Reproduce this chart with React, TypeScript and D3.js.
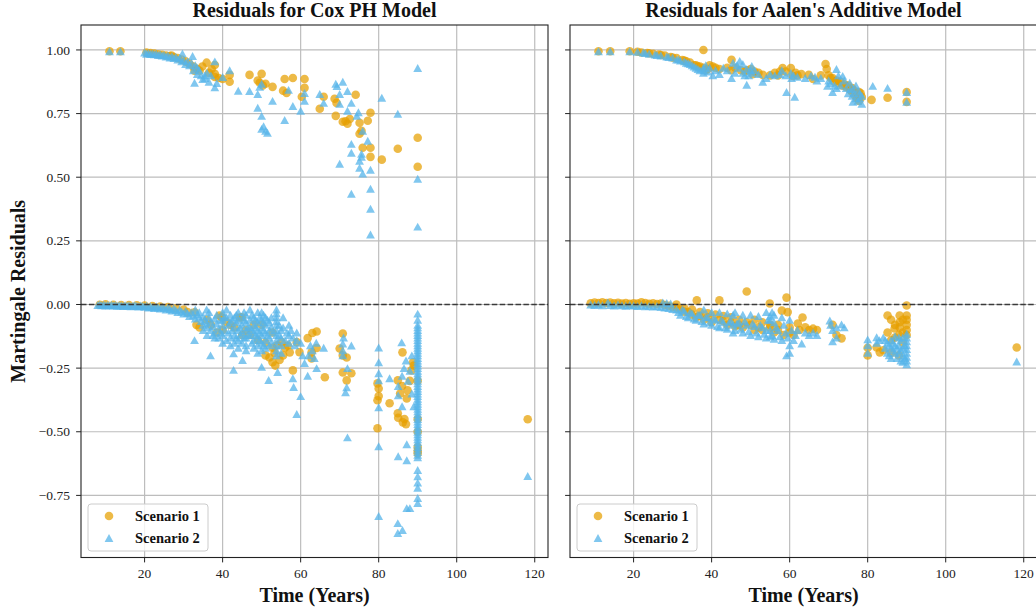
import React from 'react';
import * as d3 from 'd3';

// ---- data (time in years, martingale residual) ----
const xTicks = [20, 40, 60, 80, 100, 120];
const yTicks = [1.0, 0.75, 0.5, 0.25, 0, -0.25, -0.5, -0.75];
const yTickLabels = ['1.00', '0.75', '0.50', '0.25', '0.00', '\u22120.25', '\u22120.50', '\u22120.75'];
const seriesNames = ['Scenario 1', 'Scenario 2'];
const panelTitles = ['Residuals for Cox PH Model', "Residuals for Aalen's Additive Model"];

const coxS1 = [
  [11, 0.995], [13.8, 0.995], [20.5, 0.99], [21.5, 0.988], [22.5, 0.986], [23.5, 0.983], [24.5, 0.981], [25.5, 0.978],
  [26.5, 0.976], [26.9, 0.978], [27.5, 0.972], [28.5, 0.968], [29.5, 0.962], [30.5, 0.955], [31.5, 0.946], [32.5, 0.935],
  [32.8, 0.918], [33.5, 0.925], [34.1, 0.918], [34.8, 0.935], [35.9, 0.95], [36.5, 0.91], [37.2, 0.925], [38, 0.941],
  [38, 0.906], [38, 0.894], [39, 0.89], [40, 0.886], [41.8, 0.875], [41.8, 0.902],
  [46.9, 0.902], [49, 0.88], [49.5, 0.871], [50, 0.906], [50.3, 0.86], [51, 0.867], [52.8, 0.855], [55.5, 0.84],
  [55.9, 0.886], [56.4, 0.831], [58, 0.89], [60.3, 0.816], [61, 0.886], [61, 0.851], [64.9, 0.769], [65.9, 0.816],
  [68.7, 0.808], [69, 0.741], [69.2, 0.792], [70.8, 0.718], [71.5, 0.72], [72, 0.71], [72.6, 0.729], [74.1, 0.824],
  [75.1, 0.714], [75.1, 0.671], [75.6, 0.682], [75.9, 0.616], [77.2, 0.722], [77.9, 0.753], [77.9, 0.616], [77.9, 0.58],
  [80.8, 0.569], [84.9, 0.612], [90, 0.655], [90, 0.541],
  [8.5, -0.001], [10, 0.001], [12, -0.001], [14, -0.002], [16, -0.002], [18, -0.003], [20, -0.004], [22, -0.006],
  [24, -0.008], [26, -0.01], [28, -0.015], [30, -0.02], [31, -0.03], [32.8, -0.031], [33.3, -0.08], [34.1, -0.09],
  [36, -0.06], [37, -0.08], [38.5, -0.11], [39.2, -0.043], [39.7, -0.05], [41, -0.07], [43, -0.09], [44.4, -0.051],
  [44.9, -0.05], [46, -0.1], [47, -0.12], [48, -0.08], [50, -0.08], [51, -0.15], [52, -0.208], [52.8, -0.11],
  [52.8, -0.17], [52.8, -0.227], [53.3, -0.19], [54.6, -0.218], [55.1, -0.148], [56.7, -0.161], [57.2, -0.188], [58, -0.259],
  [59, -0.148], [59.7, -0.187], [61.8, -0.132], [63, -0.112], [64.1, -0.106], [64.1, -0.171], [62.8, -0.188], [62.8, -0.212],
  [66.2, -0.286], [70, -0.173], [70.8, -0.114], [70.8, -0.2], [70.8, -0.267], [71.8, -0.208], [71.8, -0.298], [73, -0.27],
  [79.7, -0.31], [79.7, -0.376], [79.7, -0.486], [80, -0.33], [80, -0.36], [82.8, -0.388], [84.9, -0.298], [84.9, -0.427],
  [85, -0.445], [86.1, -0.188], [86.2, -0.463], [86.6, -0.45], [87, -0.47], [87.2, -0.369], [87.4, -0.337], [88.4, -0.259],
  [88.8, -0.227], [88, -0.3], [89, -0.24], [86, -0.32], [85.5, -0.35], [90, -0.3], [90, -0.45], [90, -0.5],
  [90, -0.56], [90, -0.575], [90, -0.585], [118.2, -0.451],
  [40, -0.1], [42, -0.08], [45, -0.12], [49, -0.14], [51, -0.2], [53.5, -0.24], [54, -0.16], [55.5, -0.2],
  [56, -0.17],
];

const coxS2 = [
  [11, 0.995], [13.8, 0.995], [20, 0.99], [21, 0.988], [22, 0.986], [23, 0.984], [24, 0.982], [25, 0.98],
  [26, 0.978], [27, 0.975], [28, 0.972], [29, 0.968], [29.7, 0.986], [30, 0.96], [31, 0.955], [32.3, 0.976],
  [32, 0.95], [33, 0.94], [32.8, 0.871], [33.5, 0.93], [34, 0.92], [34.9, 0.886], [35.4, 0.9], [36, 0.91],
  [37, 0.9], [38, 0.955], [38, 0.853], [38.5, 0.87], [40, 0.894], [41.8, 0.92],
  [20.5, 0.985], [21.5, 0.984], [22.5, 0.983], [23.5, 0.98], [24.5, 0.978], [25.5, 0.974], [26.5, 0.97], [27.5, 0.968],
  [28.5, 0.962], [29.5, 0.955], [30.5, 0.945], [31.5, 0.94], [32.5, 0.92], [33.5, 0.905], [34.5, 0.9], [35.5, 0.89],
  [36.5, 0.875],
  [44, 0.84], [46.9, 0.839], [49, 0.827], [49.5, 0.855], [50, 0.867], [49, 0.773], [50, 0.741], [50, 0.69],
  [50.5, 0.7], [51, 0.682], [51.5, 0.675], [52.8, 0.8], [55.9, 0.725], [56.9, 0.843], [58, 0.78], [60, 0.761],
  [61, 0.831], [61, 0.8], [64.9, 0.827], [65.9, 0.792], [69, 0.867], [69.3, 0.858], [70.8, 0.875], [70, 0.827],
  [72, 0.839], [70, 0.788], [72, 0.761], [73, 0.792], [74.4, 0.741], [74.8, 0.755], [75.9, 0.682], [77.2, 0.643],
  [73, 0.631], [73, 0.596], [75.6, 0.592], [75.1, 0.565], [75.6, 0.58], [75.1, 0.537], [75.9, 0.514], [77.9, 0.529],
  [70, 0.553], [73, 0.435], [77.9, 0.455], [77.9, 0.376], [77.9, 0.275], [80.8, 0.812], [84.9, 0.749], [90, 0.929],
  [90, 0.494], [90, 0.306],
  [8, -0.002], [8.5, 0], [9, -0.003], [9.5, -0.001], [10, -0.004], [10.5, -0.002], [11, -0.003], [11.5, -0.001],
  [12, -0.004], [12.5, -0.002], [13, -0.005], [13.5, -0.003], [14, -0.004], [14.5, -0.006], [15, -0.003], [15.5, -0.005],
  [16, -0.004], [16.5, -0.007], [17, -0.005], [17.5, -0.003], [18, -0.006], [18.5, -0.008], [19, -0.004], [19.5, -0.006],
  [20, -0.009], [20.5, -0.005], [21, -0.012], [21.5, -0.007], [22, -0.01], [22.5, -0.014], [23, -0.008], [23.5, -0.012],
  [24, -0.016], [24.5, -0.01], [25, -0.014], [25.5, -0.02], [26, -0.012], [26.5, -0.018], [27, -0.024], [27.5, -0.016],
  [28, -0.022], [28.5, -0.03], [29, -0.02], [29.5, -0.028], [30, -0.036], [30.5, -0.025], [31, -0.034], [31.5, -0.045],
  [32, -0.03], [32.5, -0.042], [33, -0.055], [33.5, -0.038], [34, -0.05], [34.5, -0.065], [35, -0.045], [35.5, -0.06],
  [36, -0.075], [36.5, -0.05], [37, -0.068], [37.5, -0.085], [38, -0.055], [38.5, -0.075], [39, -0.095], [39.5, -0.06],
  [40, -0.08], [40.5, -0.1],
  [32.8, -0.14], [36.9, -0.2], [35.9, -0.02], [36, -0.09], [36, -0.12], [38, -0.11], [38, -0.13],
  [40, -0.03], [40, -0.06], [40, -0.12], [40, -0.15], [41, -0.02], [41, -0.05], [41, -0.14], [42, -0.04],
  [42, -0.07], [42, -0.13], [42, -0.16], [43, -0.05], [43, -0.09], [43, -0.12], [43, -0.15], [44, -0.03],
  [44, -0.06], [44, -0.1], [44, -0.14], [44, -0.17], [45, -0.05], [45, -0.08], [45, -0.11], [45, -0.15],
  [46, -0.04], [46, -0.07], [46, -0.1], [46, -0.13], [46, -0.16], [46, -0.18], [47, -0.02], [47, -0.06],
  [47, -0.09], [47, -0.12], [48, -0.05], [48, -0.08], [48, -0.11], [48, -0.14], [48, -0.17], [49, -0.03],
  [49, -0.07], [49, -0.1], [49, -0.13], [49, -0.16], [49, -0.19], [50, -0.03], [50, -0.06], [50, -0.09],
  [50, -0.12], [50, -0.15], [50, -0.18], [51, -0.05], [51, -0.08], [51, -0.11], [51, -0.14], [51, -0.17],
  [52, -0.07], [52, -0.1], [52, -0.13], [52, -0.16], [53.8, -0.02], [53.8, -0.035], [53.8, -0.05], [53.8, -0.065],
  [53.8, -0.08], [53.8, -0.1], [53.8, -0.12], [53.8, -0.14], [53.8, -0.16], [53.8, -0.18], [53.8, -0.2], [55, -0.1],
  [55, -0.13], [55, -0.16], [55, -0.19], [57, -0.08], [57, -0.12], [57, -0.15], [59, -0.11], [59, -0.14],
  [33, -0.02], [34, -0.03], [35, -0.08], [35, -0.1], [36.5, -0.03], [37, -0.1], [37.5, -0.12], [38.5, -0.04],
  [39, -0.13], [39.5, -0.11], [40.5, -0.05], [41.5, -0.08], [41.5, -0.11], [42.5, -0.06], [42.5, -0.1], [43.5, -0.04],
  [43.5, -0.07], [43.5, -0.13], [44.5, -0.09], [44.5, -0.12], [45.5, -0.03], [45.5, -0.06], [45.5, -0.13], [46.5, -0.09],
  [46.5, -0.12], [47.5, -0.04], [47.5, -0.1], [47.5, -0.15], [48.5, -0.06], [48.5, -0.09], [48.5, -0.12], [49.5, -0.05],
  [49.5, -0.11], [49.5, -0.14], [50.5, -0.04], [50.5, -0.07], [50.5, -0.1], [50.5, -0.16], [51.5, -0.06], [51.5, -0.12],
  [52.5, -0.05], [52.5, -0.09], [52.5, -0.15], [53, -0.11], [54.5, -0.08], [54.5, -0.12], [55.5, -0.05], [55.5, -0.09],
  [56, -0.14], [56.5, -0.11], [57.5, -0.1], [58, -0.13], [58.5, -0.16], [60, -0.15], [60.5, -0.2], [61, -0.23],
  [62.5, -0.16], [63.5, -0.21],
  [42.8, -0.257], [42.8, -0.192], [45.1, -0.218], [50, -0.245], [51.8, -0.297], [54.1, -0.265], [58, -0.29], [58.2, -0.324],
  [60, -0.36], [59, -0.43], [61.8, -0.28], [64.1, -0.25], [65.9, -0.17], [62, -0.2], [63, -0.18], [64, -0.15],
  [70.8, -0.153], [70.8, -0.18], [70.8, -0.2], [71, -0.13], [71.8, -0.325], [72, -0.522], [73, -0.161], [72, -0.25],
  [71.5, -0.345],
  [80, -0.169], [80, -0.227], [80, -0.27], [80, -0.298], [80, -0.404], [80, -0.557], [80, -0.831], [82.8, -0.29],
  [85.9, -0.149], [85, -0.357], [85, -0.32], [86, -0.28], [86.5, -0.25], [87, -0.22], [87.5, -0.3], [88, -0.26],
  [88.5, -0.35], [86, -0.4], [85, -0.596], [87.2, -0.549], [87.2, -0.612], [87.2, -0.8], [88, -0.8], [84.9, -0.859],
  [86.1, -0.886], [84.9, -0.898], [89, -0.4], [88.5, -0.2],
  [90, -0.036], [90, -0.06], [90, -0.08], [90, -0.1], [90, -0.12], [90, -0.14], [90, -0.16], [90, -0.18],
  [90, -0.2], [90, -0.22], [90, -0.24], [90, -0.26], [90, -0.28], [90, -0.3], [90, -0.32], [90, -0.34],
  [90, -0.36], [90, -0.38], [90, -0.4], [90, -0.42], [90, -0.44], [90, -0.46], [90, -0.48], [90, -0.5],
  [90, -0.52], [90, -0.54], [90, -0.56], [90, -0.58], [90, -0.6], [90, -0.65], [90, -0.675], [90, -0.7],
  [90, -0.72], [90, -0.76], [90, -0.78], [118.2, -0.674],
  [90, -0.09], [90, -0.11], [90, -0.13], [90, -0.15], [90, -0.17], [90, -0.19], [90, -0.21], [90, -0.23],
  [90, -0.25], [90, -0.27], [90, -0.29], [90, -0.31], [90, -0.33], [90, -0.35], [90, -0.37], [90, -0.39],
  [90, -0.41], [90, -0.43], [90, -0.45], [90, -0.47], [90, -0.49], [90, -0.51], [90, -0.53], [90, -0.55],
  [90, -0.57], [90, -0.59],
];

const aalenS1 = [
  [11, 0.995], [14, 0.995], [19, 0.995], [21, 0.993], [22, 0.99], [23.5, 0.988], [25, 0.985], [26.5, 0.982],
  [28, 0.978], [29.5, 0.972], [31, 0.968], [32.5, 0.96], [33.5, 0.955], [34.5, 0.95], [35.5, 0.94], [36.5, 0.935],
  [37.9, 1.0], [37.9, 0.93], [38.5, 0.92], [39.5, 0.94], [40.3, 0.935], [42, 0.925], [45.1, 0.961], [46, 0.93],
  [47.5, 0.92], [48.5, 0.915], [50, 0.925], [50.5, 0.905], [53.1, 0.902], [56.2, 0.91], [57, 0.9], [58.2, 0.929],
  [59, 0.915], [60.3, 0.929], [60.8, 0.898], [61.5, 0.91], [64.9, 0.902], [66, 0.886], [69.2, 0.945], [69.5, 0.925],
  [70, 0.9], [71, 0.89], [72, 0.88], [73, 0.875], [74, 0.865], [75, 0.86], [76, 0.85], [76.5, 0.84],
  [77, 0.83], [77.5, 0.825], [78, 0.82], [78.5, 0.815], [77.8, 0.835], [81, 0.804], [85.1, 0.812], [90, 0.835],
  [90, 0.796],
  [24, 0.987], [27, 0.98], [30, 0.97], [33, 0.958], [36, 0.94], [37, 0.935], [39, 0.925], [41, 0.93],
  [44, 0.93], [45, 0.92], [49, 0.92], [51, 0.915], [52, 0.91], [55, 0.9], [57.5, 0.915], [62, 0.9],
  [63, 0.905], [68, 0.9], [70.5, 0.89], [71.5, 0.875], [72.5, 0.87], [73.5, 0.86], [74.5, 0.855], [75.5, 0.845],
  [76, 0.835], [76.8, 0.82], [77.3, 0.81], [77.8, 0.8], [78.2, 0.83],
  [9, 0.005], [10, 0.008], [11, 0.006], [12, 0.009], [13, 0.006], [14, 0.008], [15, 0.005], [16, 0.007],
  [17, 0.004], [18, 0.006], [19, 0.003], [20, 0.005], [21, 0.004], [22, 0.009], [23, 0.006], [24, 0.003],
  [25, 0.005], [26, 0.002], [27, 0.004], [28, -0.002], [29, -0.005], [30, -0.01], [31, -0.012], [32, -0.02],
  [33, -0.028], [34, -0.03], [35, -0.04], [36.2, 0.016], [36, -0.05], [37, -0.045], [38, -0.06], [39, -0.05],
  [40, -0.07], [42, 0.016], [42, -0.06], [43, -0.065], [44, -0.08], [45, -0.07], [46, -0.085], [47, -0.06],
  [48, -0.09], [49, 0.051], [50, -0.08], [51, -0.1], [52, -0.09], [53, -0.1], [54.9, 0.004], [55, -0.08],
  [56, -0.11], [57, -0.1], [58, -0.024], [59.2, 0.027], [59.5, -0.03], [58.5, -0.12], [60, -0.11], [62.1, -0.075],
  [63.3, -0.051], [62.5, -0.1], [64, -0.09], [65, -0.1], [66, -0.095], [67, -0.1], [71, -0.08], [72, -0.12],
  [73.3, -0.133], [80, -0.2], [80, -0.17], [82.3, -0.169], [83.1, -0.188], [85.1, -0.043], [85.1, -0.11], [86.9, -0.094],
  [87, -0.13], [88.2, -0.043], [88.2, -0.07], [88.2, -0.09], [90, -0.004], [90, -0.043], [90, -0.06], [90, -0.08],
  [90, -0.1], [90, -0.12], [88, -0.2], [86, -0.19], [84, -0.18], [89, -0.15], [118.2, -0.169],
  [31, 0.0], [33, -0.015], [35, -0.02], [37, -0.03], [39, -0.035], [41, -0.04], [43, -0.045], [45, -0.05],
  [47, -0.08], [49, -0.07], [51, -0.06], [53, -0.07], [55, -0.09], [57, -0.08], [60, -0.09], [61, -0.12],
  [86, -0.06], [87, -0.08], [89, -0.06], [89, -0.11], [88, -0.12], [86, -0.14],
];

const aalenS2 = [
  [11, 0.995], [14, 0.995], [19, 0.995], [21, 0.993], [22.5, 0.99], [24, 0.985], [25.5, 0.982], [27, 0.978],
  [28.5, 0.974], [30, 0.97], [31.5, 0.963], [33, 0.955], [34, 0.948], [35, 0.94], [36, 0.93], [37, 0.92],
  [37.9, 0.91], [37.9, 0.93], [38.5, 0.94], [40.3, 0.9], [41, 0.92], [45.1, 0.89], [45.5, 0.95], [47.2, 0.957],
  [47, 0.93], [48, 0.91], [48.5, 0.9], [49, 0.863], [50.3, 0.937], [50.3, 0.91], [50, 0.92], [53.1, 0.875],
  [56.2, 0.9], [57.5, 0.905], [59.2, 0.835], [60.3, 0.91], [60.5, 0.89], [61.3, 0.816], [65.5, 0.9], [66.5, 0.895],
  [69.7, 0.859], [70, 0.88], [71, 0.835], [72, 0.925], [72.5, 0.9], [73.6, 0.898], [74, 0.88], [75.4, 0.871],
  [76.2, 0.847], [76.2, 0.796], [77, 0.86], [77.5, 0.84], [78.5, 0.788], [78.5, 0.82], [81.3, 0.859], [85.1, 0.851],
  [90, 0.835], [90, 0.796],
  [23, 0.988], [26, 0.98], [29, 0.972], [31, 0.962], [32, 0.958], [33.5, 0.95], [34.5, 0.945], [35.5, 0.935],
  [36.5, 0.925], [38, 0.92], [39, 0.915], [39.5, 0.93], [42, 0.905], [43, 0.93], [44, 0.92], [46, 0.91],
  [46.5, 0.94], [48, 0.945], [49, 0.925], [49.5, 0.9], [51, 0.92], [52, 0.905], [54, 0.89], [55, 0.905],
  [58, 0.92], [59, 0.9], [61, 0.9], [62, 0.895], [64, 0.89], [67, 0.88], [68, 0.89], [70.5, 0.87],
  [71.5, 0.86], [72, 0.85], [73, 0.86], [74.5, 0.85], [75, 0.83], [75.5, 0.845], [76, 0.82], [76.5, 0.83],
  [77, 0.81], [77.5, 0.8], [78, 0.83], [78, 0.81],
  [9, 0.0], [10, -0.002], [11, 0.001], [12, -0.003], [13.4, 0.008], [14, -0.002], [15, -0.004], [16, 0.0],
  [17, -0.003], [18, -0.005], [19, -0.002], [20, -0.004], [21, -0.006], [22, -0.003], [23, -0.007], [24, -0.005],
  [25, -0.008], [26, -0.006], [27.5, 0.008], [28.5, 0.006], [29.5, 0.004], [27, -0.01], [28, -0.012], [29, -0.014],
  [30, -0.018], [31, -0.02], [32, -0.04], [33, -0.025], [34, -0.05], [35, -0.035], [36, -0.06], [37, -0.04],
  [38, -0.075], [38, -0.02], [39, -0.05], [40, -0.08], [40, -0.03], [41, -0.06], [42, -0.09], [42, -0.03],
  [43, -0.07], [44, -0.095], [44, -0.035], [45, -0.065], [45.5, -0.04], [45.5, -0.08], [45.5, -0.11], [46, -0.1],
  [46, -0.03], [47, -0.07], [48, -0.11], [48, -0.04], [49, -0.08], [50, -0.12], [50, -0.04], [51, -0.085],
  [52, -0.125], [52, -0.045], [53, -0.09], [54, -0.13], [54, -0.03], [55, -0.1], [55, -0.06], [55.5, -0.12],
  [56, -0.135], [56, -0.04], [57, -0.1], [58, -0.14], [58, -0.05], [59, -0.11], [59.2, -0.2], [60, -0.16],
  [60, -0.06], [60, -0.19], [62, -0.1], [63.1, -0.153], [64, -0.11], [65, -0.12], [66, -0.11], [67, -0.12],
  [31.5, -0.03], [32.5, -0.02], [33.5, -0.045], [34.5, -0.03], [35.5, -0.055], [36.5, -0.04], [37.5, -0.065], [38.5, -0.05],
  [39.5, -0.07], [40.5, -0.055], [41.5, -0.085], [42.5, -0.06], [43.5, -0.09], [44.5, -0.07], [46.5, -0.075], [47.5, -0.095],
  [48.5, -0.065], [49.5, -0.105], [50.5, -0.075], [51.5, -0.11], [52.5, -0.08], [53.5, -0.115], [54.5, -0.06], [55, -0.125],
  [56.5, -0.09], [57.5, -0.125], [58.5, -0.08], [59.5, -0.13], [60.5, -0.1], [61, -0.14], [61.5, -0.12], [54, -0.1],
  [55.5, -0.03], [56, -0.07], [55, -0.045],
  [70.3, -0.063], [70.5, -0.08], [71, -0.1], [71, -0.145], [72, -0.09], [72, -0.13], [73.3, -0.078], [74, -0.09],
  [80, -0.137], [80, -0.16], [80, -0.19], [82.3, -0.129], [82.3, -0.15], [83, -0.14], [84, -0.13], [84.5, -0.17],
  [85, -0.15], [85.5, -0.2], [86, -0.14], [86.5, -0.18], [87, -0.16], [87.5, -0.21], [88, -0.13], [88, -0.19],
  [88.5, -0.22], [89, -0.17], [89, -0.2], [90, -0.115], [90, -0.13], [90, -0.145], [90, -0.16], [90, -0.175],
  [90, -0.19], [90, -0.205], [90, -0.22], [90, -0.235], [118.2, -0.224],
  [84.5, -0.14], [85, -0.19], [85.5, -0.16], [86, -0.21], [86.5, -0.15], [87, -0.19], [87.5, -0.17], [88, -0.16],
  [88.5, -0.18], [89, -0.13], [89.5, -0.21], [89.5, -0.16], [88.5, -0.14], [87, -0.125], [86, -0.17], [89, -0.225],
];

const panelData = [
  [coxS1, coxS2],
  [aalenS1, aalenS2],
];

const colors = ['#E69F00', '#56B4E9'];
const FONT = "'Liberation Serif', 'Times New Roman', 'DejaVu Serif', serif";

const W = 1036;
const H = 615;
const PLOT_TOP = 25;
const PLOT_BOTTOM = 557.5;
const PANEL_LEFT = [81, 570];
const PANEL_WIDTH = 467;

const y = d3.scaleLinear().domain([-0.994, 1.098]).range([PLOT_BOTTOM, PLOT_TOP]);

function triangle(cx: number, cy: number, s: number) {
  const h = s * 0.9;
  return `M${cx},${cy - h / 2}L${cx + s / 2},${cy + h / 2}L${cx - s / 2},${cy + h / 2}Z`;
}

function Marker({ kind, cx, cy }: { kind: number; cx: number; cy: number }) {
  if (kind === 0) {
    return <circle cx={cx} cy={cy} r={4.3} fill={colors[0]} fillOpacity={0.72} />;
  }
  return <path d={triangle(cx, cy, 8.8)} fill={colors[1]} fillOpacity={0.75} />;
}

function Panel({ idx }: { idx: number }) {
  const left = PANEL_LEFT[idx];
  const x = d3.scaleLinear().domain([3.7, 123.4]).range([left, left + PANEL_WIDTH]);
  const cx = left + PANEL_WIDTH / 2;
  const clipId = `clip-${idx}`;
  const legX = left + 7;
  const legY = 504;

  return (
    <g>
      <defs>
        <clipPath id={clipId}>
          <rect x={left} y={PLOT_TOP} width={PANEL_WIDTH} height={PLOT_BOTTOM - PLOT_TOP} />
        </clipPath>
      </defs>
      {/* grid */}
      <g stroke="#bdbdbd" strokeWidth={1.2}>
        {xTicks.map(t => (
          <line key={'gx' + t} x1={x(t)} x2={x(t)} y1={PLOT_TOP} y2={PLOT_BOTTOM} />
        ))}
        {yTicks.map(t => (
          <line key={'gy' + t} x1={left} x2={left + PANEL_WIDTH} y1={y(t)} y2={y(t)} />
        ))}
      </g>
      {/* points */}
      <g clipPath={`url(#${clipId})`}>
        {panelData[idx].map((series, si) =>
          series.map((d, i) => <Marker key={si + '-' + i} kind={si} cx={x(d[0])} cy={y(d[1])} />)
        )}
        <line
          x1={left}
          x2={left + PANEL_WIDTH}
          y1={y(0)}
          y2={y(0)}
          stroke="#3a3a3a"
          strokeWidth={1.5}
          strokeDasharray="5.5,2.4"
        />
      </g>
      {/* frame */}
      <rect
        x={left}
        y={PLOT_TOP}
        width={PANEL_WIDTH}
        height={PLOT_BOTTOM - PLOT_TOP}
        fill="none"
        stroke="#222"
        strokeWidth={1.1}
      />
      {/* x ticks */}
      {xTicks.map(t => (
        <g key={'xt' + t}>
          <line x1={x(t)} x2={x(t)} y1={PLOT_BOTTOM} y2={PLOT_BOTTOM + 4.9} stroke="#222" strokeWidth={1} />
          <text x={x(t)} y={578} textAnchor="middle" fontSize={13.5} fontFamily={FONT} fill="#222">
            {t}
          </text>
        </g>
      ))}
      {/* y ticks */}
      {yTicks.map((t, i) => (
        <g key={'yt' + t}>
          <line x1={left - 4.9} x2={left} y1={y(t)} y2={y(t)} stroke="#222" strokeWidth={1} />
          {idx === 0 && (
            <text x={left - 11} y={y(t) + 4.6} textAnchor="end" fontSize={13.5} fontFamily={FONT} fill="#222">
              {yTickLabels[i]}
            </text>
          )}
        </g>
      ))}
      {/* title & x label */}
      <text x={cx} y={16.5} textAnchor="middle" fontSize={20} fontWeight="bold" fontFamily={FONT} fill="#111">
        {panelTitles[idx]}
      </text>
      <text x={cx} y={602} textAnchor="middle" fontSize={20} fontWeight="bold" fontFamily={FONT} fill="#111">
        Time (Years)
      </text>
      {/* legend */}
      <rect x={legX} y={legY} width={120} height={47} rx={3} fill="#fff" fillOpacity={0.8} stroke="#cccccc" strokeWidth={1} />
      {seriesNames.map((name, si) => {
        const my = legY + 12 + si * 22;
        return (
          <g key={name}>
            <Marker kind={si} cx={legX + 21} cy={my} />
            <text x={legX + 47} y={my + 4.5} fontSize={14.5} fontWeight="bold" fontFamily={FONT} fill="#111">
              {name}
            </text>
          </g>
        );
      })}
    </g>
  );
}

export default function App() {
  return (
    <div style={{ position: 'absolute', left: 0, top: 0, width: W, height: H, background: '#fff' }}>
      <svg width={W} height={H} style={{ display: 'block' }}>
        <rect width={W} height={H} fill="#fff" />
        <Panel idx={0} />
        <Panel idx={1} />
        <text
          transform={`translate(24.5,${(PLOT_TOP + PLOT_BOTTOM) / 2}) rotate(-90)`}
          textAnchor="middle"
          fontSize={20}
          fontWeight="bold"
          fontFamily={FONT}
          fill="#111"
        >
          Martingale Residuals
        </text>
      </svg>
    </div>
  );
}
